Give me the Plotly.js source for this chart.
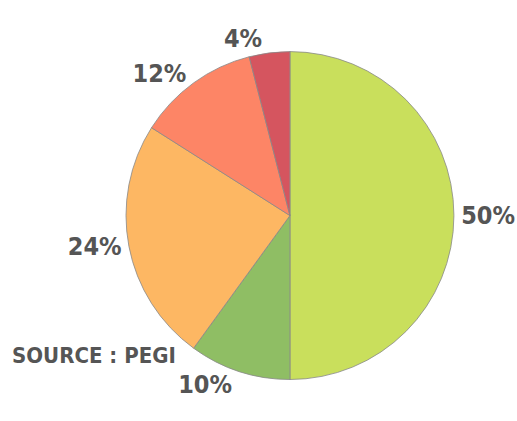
<!DOCTYPE html>
<html><head><meta charset="utf-8">
<script src="https://cdn.plot.ly/plotly-3.0.1.min.js"></script>
<style>html,body{margin:0;padding:0;background:#fff}</style>
</head><body>
<div id="chart" style="width:517px;height:421px"></div>
<script>
const categories = ["A", "B", "C", "D", "E"];
const values = [50, 10, 24, 12, 4];
const colors = ["#c9df5c", "#8fbe64", "#fdb763", "#fd8566", "#d5555f"];
const sourceText = "SOURCE : PEGI";

const family = "DejaVu Sans Condensed, sans-serif";
const font = {family: family, size: 25, color: "#555555", weight: 700};

Plotly.newPlot("chart", [{
  type: "pie",
  labels: categories,
  values: values,
  sort: false,
  direction: "clockwise",
  rotation: 0,
  marker: {colors: colors, line: {color: "#888888", width: 0.8}},
  textinfo: "percent",
  texttemplate: "%{value}%",
  textposition: "outside",
  outsidetextfont: font,
  hoverinfo: "none",
  domain: {x: [0.2437, 0.878], y: [0.097, 0.879]},
  automargin: false
}], {
  width: 517, height: 421,
  margin: {l: 0, r: 0, t: 0, b: 0},
  showlegend: false,
  paper_bgcolor: "#ffffff",
  annotations: [{
    text: sourceText,
    x: 10/517, y: 1 - 355/421, xref: "paper", yref: "paper",
    xanchor: "left", yanchor: "middle",
    showarrow: false,
    font: {family: family, size: 22, color: "#555555", weight: 700}
  }]
}, {staticPlot: true});
</script>
</body></html>
